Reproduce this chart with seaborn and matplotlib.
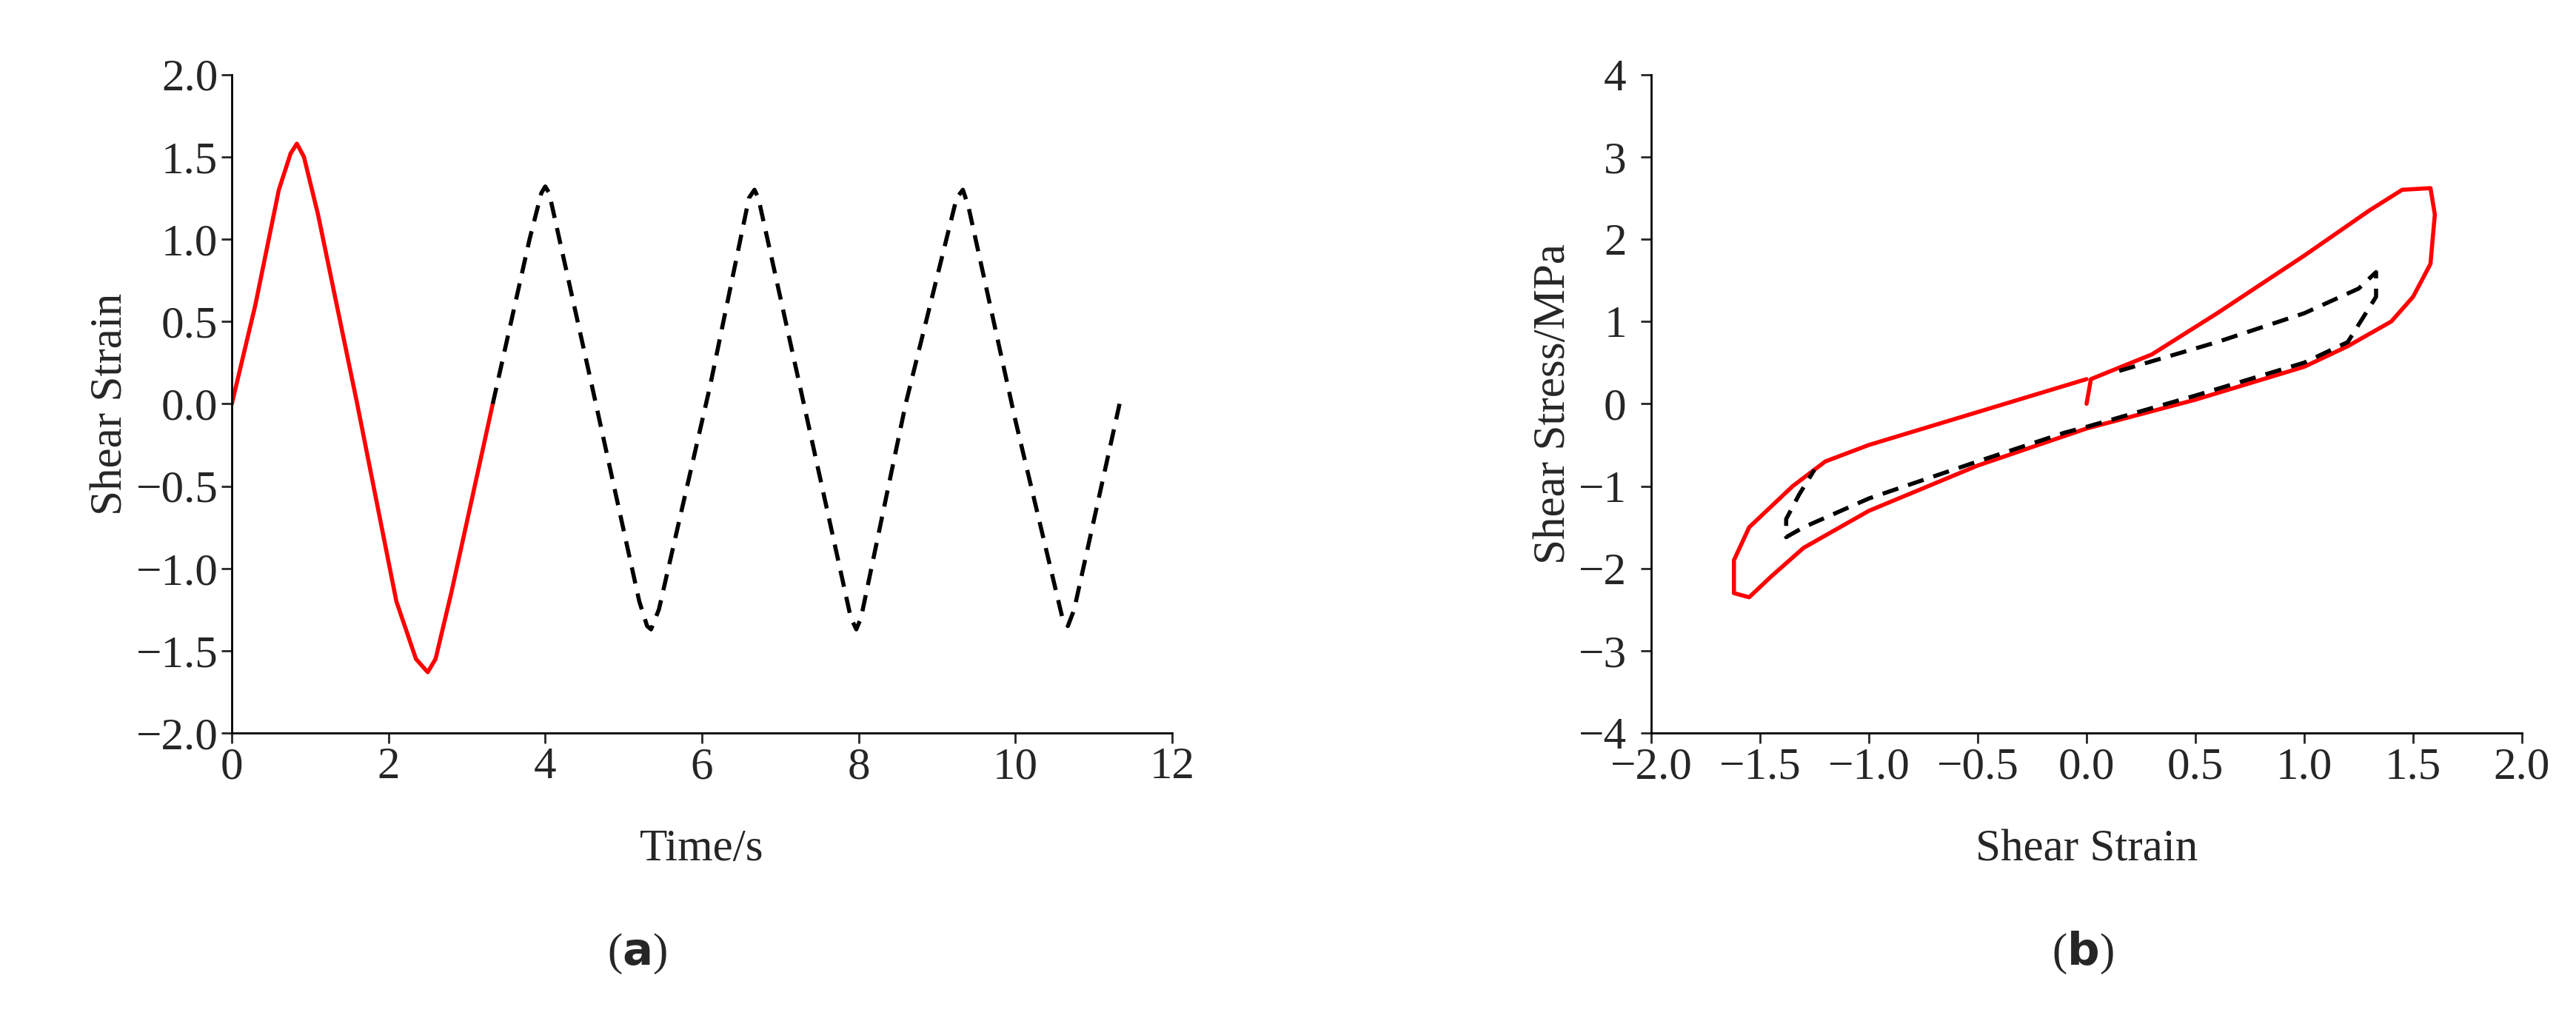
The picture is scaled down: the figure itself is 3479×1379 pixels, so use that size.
import numpy as np
import pandas as pd
import seaborn as sns
import matplotlib.pyplot as plt

# --- (a) strain history ---
t_red = [0, 0.3, 0.6, 0.75, 0.83, 0.92, 1.1, 1.6, 2.1, 2.35, 2.5, 2.6, 2.8, 3.1, 3.33]
s_red = [0, 0.6, 1.3, 1.52, 1.58, 1.5, 1.15, 0.0, -1.2, -1.55, -1.63, -1.55, -1.15, -0.5, 0]
t_blk = [3.33, 3.8, 3.95, 4.0, 4.05, 4.6, 5.2, 5.3, 5.35, 5.45, 6.1, 6.6, 6.67, 6.72, 7.3, 7.9, 7.97, 8.03, 8.6, 9.25, 9.33, 9.4, 10.0, 10.6, 10.67, 10.75, 11.33]
s_blk = [0, 1.0, 1.28, 1.32, 1.28, 0.1, -1.2, -1.35, -1.37, -1.25, 0.1, 1.25, 1.3, 1.25, 0.0, -1.3, -1.37, -1.3, 0.0, 1.25, 1.3, 1.2, -0.1, -1.3, -1.35, -1.25, 0]

# --- (b) hysteresis loops ---
g_red = [0, 0.02, 0.3, 0.6, 1.0, 1.3, 1.45, 1.58, 1.6, 1.58, 1.5, 1.4, 1.2, 1.0, 0.5, 0.0, -0.5, -1.0, -1.3, -1.45, -1.55, -1.62, -1.62, -1.55, -1.35, -1.2, -1.0, -0.5, 0.0]
tau_red = [0, 0.3, 0.6, 1.1, 1.8, 2.35, 2.6, 2.62, 2.3, 1.7, 1.3, 1.0, 0.7, 0.45, 0.05, -0.3, -0.75, -1.3, -1.75, -2.1, -2.35, -2.3, -1.9, -1.5, -1.0, -0.7, -0.5, -0.1, 0.3]
g_blk = [0.15, 0.6, 1.0, 1.25, 1.33, 1.33, 1.2, 1.0, 0.5, 0.0, -0.1, -0.5, -1.0, -1.3, -1.38, -1.38, -1.32, -1.25]
tau_blk = [0.4, 0.75, 1.1, 1.4, 1.6, 1.3, 0.75, 0.5, 0.1, -0.28, -0.35, -0.7, -1.15, -1.5, -1.62, -1.4, -1.1, -0.8]

sns.set_theme(style="ticks")
plt.rcParams['font.family'] = ['Liberation Serif', 'DejaVu Serif']
FS = 44
DASH = (0, (4, 2.5))

fig = plt.figure(figsize=(34.79, 13.79), dpi=100)
ax1 = fig.add_axes([0.09, 0.282, 0.365, 0.645])
ax2 = fig.add_axes([0.641, 0.282, 0.338, 0.645])

sns.lineplot(x=t_red, y=s_red, ax=ax1, color='red', lw=4, sort=False, estimator=None)
sns.lineplot(x=t_blk, y=s_blk, ax=ax1, color='black', lw=4, sort=False, estimator=None, linestyle=DASH)
ax1.set_xlim(0, 12)
ax1.set_ylim(-2, 2)
ax1.set_xticks(range(0, 13, 2))
yt = np.arange(-2, 2.01, 0.5)
ax1.set_yticks(yt)
ax1.set_yticklabels([f"{v:.1f}".replace('-', '\u2212') for v in yt])
ax1.set_xlabel("Time/s", fontsize=FS, labelpad=40)
ax1.set_ylabel("Shear Strain", fontsize=FS)

sns.lineplot(x=g_red, y=tau_red, ax=ax2, color='red', lw=4, sort=False, estimator=None)
sns.lineplot(x=g_blk, y=tau_blk, ax=ax2, color='black', lw=4, sort=False, estimator=None, linestyle=DASH)
ax2.set_xlim(-2, 2)
ax2.set_ylim(-4, 4)
xt = np.arange(-2, 2.01, 0.5)
ax2.set_xticks(xt)
ax2.set_xticklabels([f"{v:.1f}".replace('-', '\u2212') for v in xt])
ax2.set_yticks(range(-4, 5))
ax2.set_yticklabels([str(v).replace('-', '\u2212') for v in range(-4, 5)])
ax2.set_xlabel("Shear Strain", fontsize=FS, labelpad=40)
ax2.set_ylabel("Shear Stress/MPa", fontsize=FS)

for ax in (ax1, ax2):
    sns.despine(ax=ax)
    ax.tick_params(labelsize=FS, width=2, length=10, direction='out')
    for s in ('left', 'bottom'):
        ax.spines[s].set_linewidth(2)
        ax.spines[s].set_color('black')
ax2.tick_params(axis='y', pad=14)

for xc, letter in ((0.2475, "a"), (0.8085, "b")):
    t = fig.text(xc, 0.055, f"($\\mathbf{{{letter}}}$)", fontsize=FS, ha='center')
plt.rcParams['mathtext.fontset'] = 'custom'
plt.rcParams['mathtext.bf'] = 'Liberation Serif:bold'

fig.savefig("out.png", dpi=100)
